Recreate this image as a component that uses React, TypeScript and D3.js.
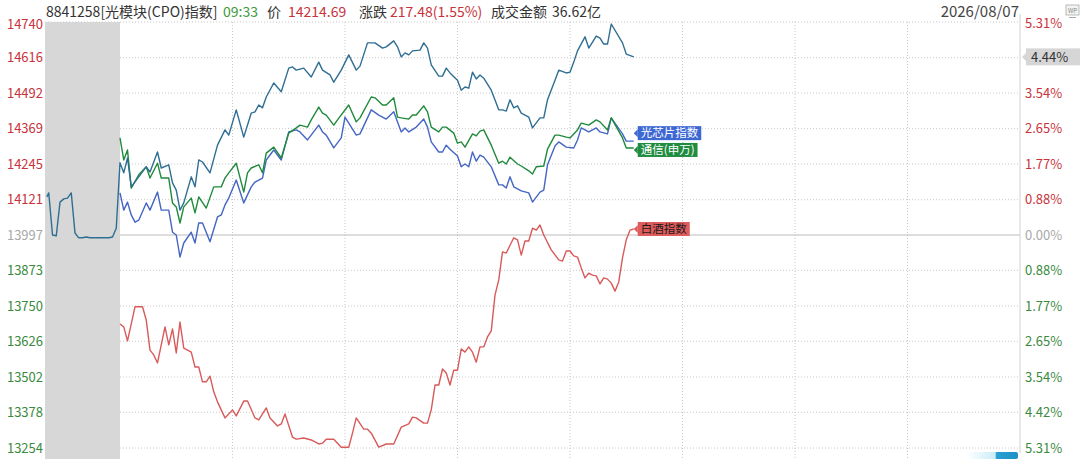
import { useEffect, useRef } from "react";
import * as d3 from "d3";

// minutes from 9:30 (negative = call auction), value = % change vs 13997
const cpoAuction: [number, number][] = [
  [-19.5, 0.95], [-19, 1.05], [-18, 0], [-17, -0.02], [-16, 0.82], [-15, 0.9], [-14, 0.92], [-13, 1.05],
  [-12, 0.05], [-11, -0.07], [-10, -0.07], [-9, -0.05], [-8, -0.07], [-5, -0.07], [-3, -0.07], [-2, -0.05], [-1, 0.17],
];

const cpoIndex: [number, number][] = [
  [0, 1.8], [1, 1.55], [2, 1.92], [3, 1.2], [5, 1.45], [7, 1.7], [8, 1.57], [10, 2.07], [11, 1.67], [13, 1.75],
  [14, 1.3], [15, 1.12], [16, 0.62], [17, 0.8], [19, 1.45], [20, 1.2], [21, 1.87], [22, 1.82], [24, 1.55], [26, 2.24],
  [28, 2.62], [29, 2.49], [31, 3.12], [33, 2.44], [35, 3.04], [36, 3.07], [37, 3.24], [38, 3.17], [39, 3.44], [41, 3.79],
  [43, 3.57], [45, 4.16], [46, 4.19], [47, 4.11], [49, 4.16], [51, 3.94], [53, 4.31], [54, 4.11], [56, 3.99], [57, 3.81],
  [59, 4.11], [61, 4.49], [63, 4.11], [64, 4.21], [66, 4.79], [68, 4.79], [70, 4.66], [71, 4.69], [73, 4.84], [74, 4.69],
  [75, 4.44], [76, 4.54], [77, 4.49], [78, 4.59], [80, 4.61], [81, 4.79], [82, 4.66], [83, 4.24], [85, 3.96], [86, 3.96],
  [87, 4.16], [88, 4.04], [90, 3.86], [91, 3.61], [92, 3.69], [93, 3.66], [94, 4.06], [95, 3.89], [96, 3.99], [97, 3.91],
  [99, 3.61], [101, 3.12], [102, 3.12], [103, 3.09], [104, 3.37], [105, 3.17], [106, 3.22], [107, 3.04], [109, 2.94], [110, 2.67],
  [112, 2.92], [113, 2.92], [114, 3.37], [116, 3.86], [117, 4.11], [119, 4.04], [120, 4.06], [121, 4.31], [122, 4.59], [124, 4.94],
  [125, 4.66], [127, 4.96], [128, 4.91], [129, 4.76], [130, 4.76], [131, 5.26], [134, 4.79], [135, 4.51], [137, 4.44],
];

const telecomIndex: [number, number][] = [
  [0, 2.42], [1, 1.87], [2, 2.12], [3, 1.17], [5, 1.5], [7, 1.7], [8, 1.42], [10, 1.79], [11, 1.42], [13, 1.42],
  [14, 0.8], [15, 0.7], [16, 0.3], [17, 0.7], [19, 0.92], [20, 0.55], [21, 0.95], [23, 0.67], [25, 1.2], [27, 1.2],
  [28, 1.42], [29, 1.55], [31, 1.79], [33, 1.07], [34, 1.55], [35, 1.67], [37, 1.75], [38, 1.55], [39, 2.04], [41, 2.19],
  [43, 1.92], [45, 2.54], [47, 2.67], [48, 2.74], [50, 2.69], [51, 2.87], [53, 3.19], [54, 3.04], [55, 2.99], [57, 2.74],
  [58, 2.87], [61, 3.24], [63, 2.82], [64, 2.92], [67, 3.44], [68, 3.42], [70, 3.24], [71, 3.24], [73, 3.42], [74, 2.94],
  [75, 2.92], [77, 2.89], [78, 2.99], [79, 2.99], [81, 3.22], [82, 3.07], [83, 2.69], [85, 2.57], [86, 2.69], [87, 2.69],
  [89, 2.54], [90, 2.29], [91, 2.32], [92, 2.19], [94, 2.52], [95, 2.47], [96, 2.59], [97, 2.62], [99, 2.24], [101, 1.79],
  [102, 1.84], [103, 1.77], [104, 1.94], [106, 1.77], [107, 1.72], [109, 1.6], [110, 1.52], [111, 1.7], [113, 1.72], [114, 2.14],
  [116, 2.49], [117, 2.49], [119, 2.44], [120, 2.42], [122, 2.62], [123, 2.79], [125, 2.74], [127, 2.87], [128, 2.82], [130, 2.62],
  [131, 2.92], [134, 2.42], [135, 2.17], [137, 2.17],
];

const chipIndex: [number, number][] = [
  [0, 1.05], [1, 0.62], [2, 0.82], [3, 0.5], [4, 0.32], [5, 0.37], [7, 0.8], [8, 0.62], [10, 1.07], [11, 0.62],
  [13, 0.62], [14, 0.07], [15, 0], [16, -0.55], [17, -0.2], [19, 0.07], [20, -0.2], [21, 0.3], [22, 0.3], [24, -0.17],
  [26, 0.45], [27, 0.5], [28, 0.75], [29, 0.92], [31, 1.37], [33, 0.8], [35, 1.2], [36, 1.32], [38, 1.42], [39, 1.87],
  [41, 2.12], [43, 1.87], [45, 2.57], [47, 2.62], [48, 2.57], [50, 2.37], [53, 2.74], [54, 2.57], [55, 2.49], [57, 2.17],
  [59, 2.42], [60, 2.94], [63, 2.49], [64, 2.52], [67, 3.12], [69, 2.99], [70, 2.94], [71, 2.89], [73, 3.07], [75, 2.57],
  [76, 2.67], [77, 2.57], [79, 2.69], [81, 2.89], [82, 2.69], [83, 2.32], [85, 2.07], [86, 2.07], [87, 2.24], [88, 2.14],
  [90, 1.97], [91, 1.7], [92, 1.77], [93, 1.7], [94, 2.07], [95, 1.84], [96, 1.99], [97, 1.94], [99, 1.7], [101, 1.25],
  [102, 1.25], [103, 1.17], [104, 1.45], [105, 1.2], [107, 1.1], [109, 1.05], [110, 0.82], [112, 1.07], [113, 1.12], [114, 1.75],
  [116, 2.22], [117, 2.32], [119, 2.19], [121, 2.17], [122, 2.37], [123, 2.67], [125, 2.57], [127, 2.67], [128, 2.57], [130, 2.52],
  [131, 2.92], [134, 2.52], [135, 2.34], [137, 2.34],
];

const liquorIndex: [number, number][] = [
  [0, -2.22], [1, -2.29], [2, -2.64], [4, -1.79], [6, -1.79], [7, -2.12], [8, -2.87], [9, -2.99], [10, -3.19], [12, -2.29],
  [13, -2.74], [14, -2.34], [15, -2.94], [16, -2.17], [17, -2.82], [19, -2.92], [20, -3.29], [21, -3.29], [22, -3.66], [23, -3.66],
  [24, -3.52], [25, -3.91], [26, -4.16], [28, -4.56], [30, -4.36], [31, -4.51], [33, -4.14], [34, -4.14], [36, -4.56], [37, -4.61],
  [39, -4.31], [40, -4.56], [42, -4.76], [43, -4.71], [44, -4.46], [46, -5.04], [47, -5.09], [49, -5.06], [51, -5.11], [53, -5.21],
  [54, -5.19], [55, -5.09], [57, -5.09], [58, -5.19], [59, -5.29], [61, -5.29], [62, -4.94], [63, -4.56], [65, -4.84], [66, -4.84],
  [67, -4.94], [69, -5.29], [71, -5.21], [73, -5.21], [75, -4.79], [77, -4.71], [78, -4.54], [79, -4.56], [81, -4.69], [82, -4.69],
  [83, -4.36], [84, -3.74], [85, -3.74], [86, -3.34], [87, -3.44], [88, -3.74], [89, -3.37], [90, -3.37], [91, -2.84], [92, -2.92],
  [93, -2.79], [94, -2.92], [95, -3.17], [96, -2.79], [97, -2.79], [98, -2.54], [99, -2.39], [100, -1.5], [101, -1.12], [102, -0.42],
  [103, -0.45], [105, -0.07], [106, -0.12], [107, -0.5], [108, -0.15], [109, -0.15], [110, 0.17], [111, 0.12], [112, 0.25], [113, 0],
  [115, -0.37], [117, -0.62], [118, -0.65], [119, -0.4], [120, -0.4], [121, -0.52], [122, -0.55], [123, -0.82], [124, -1.07], [125, -0.95],
  [126, -1.0], [127, -1.02], [128, -1.22], [129, -1.07], [130, -1.1], [131, -1.2], [132, -1.4], [133, -1.17], [134, -0.57], [135, -0.12],
  [136, 0.12], [137, 0.15],
];

const pctTicks = [5.31, 4.42, 3.54, 2.65, 1.77, 0.88, 0, -0.88, -1.77, -2.65, -3.54, -4.42, -5.31];
const priceLabels = ["14740", "14616", "14492", "14369", "14245", "14121", "13997", "13873", "13750", "13626", "13502", "13378", "13254"];
const pctLabels = ["5.31%", "4.42%", "3.54%", "2.65%", "1.77%", "0.88%", "0.00%", "0.88%", "1.77%", "2.65%", "3.54%", "4.42%", "5.31%"];
const gridMinutes = [30, 60, 90, 120, 150, 180, 210];

const header = [
  { text: "8841258[光模块(CPO)指数]", color: "#333" },
  { text: "09:33", color: "#3c9a3c" },
  { text: "价", color: "#333" },
  { text: "14214.69", color: "#c8323a" },
  { text: "涨跌", color: "#333" },
  { text: "217.48(1.55%)", color: "#c8323a" },
  { text: "成交金额", color: "#333" },
  { text: "36.62亿", color: "#333" },
];
const headerX = [46, 223, 267, 288, 359, 390, 491, 552];
const dateLabel = "2026/08/07";

export default function App() {
  const svgRef = useRef<SVGSVGElement>(null);

  useEffect(() => {
    if (!svgRef.current) return;
    document.body.style.margin = "0";

    const svg = d3.select(svgRef.current);
    svg.selectAll("*").remove();

    const W = 1080;
    const H = 459;
    const left = 45;
    const right = 1020;
    const top = 22;
    const bottom = 448;
    const font = "'Noto Sans CJK SC', 'Noto Sans', sans-serif";

    const x = d3.scaleLinear().domain([-20, 240]).range([left, right]);
    const y = d3.scaleLinear().domain([-5.31, 5.31]).range([bottom, top]);

    svg.append("rect").attr("width", W).attr("height", H).attr("fill", "#fff");

    // grid
    pctTicks.forEach((p) => {
      svg.append("line")
        .attr("x1", left).attr("x2", right)
        .attr("y1", y(p)).attr("y2", y(p))
        .attr("stroke", p === 0 ? "#d2d2d2" : "#c8c8c8")
        .attr("stroke-width", p === 0 ? 1.5 : 1)
        .attr("stroke-dasharray", p === 0 ? null : "1,2");
    });
    gridMinutes.forEach((m) => {
      svg.append("line")
        .attr("x1", x(m)).attr("x2", x(m))
        .attr("y1", top).attr("y2", H)
        .attr("stroke", "#c8c8c8")
        .attr("stroke-dasharray", "1,2");
    });
    svg.append("line")
      .attr("x1", x(240)).attr("x2", x(240))
      .attr("y1", 14).attr("y2", 453)
      .attr("stroke", "#d0d0d0");

    // auction shading
    svg.append("rect")
      .attr("x", x(-20)).attr("y", top)
      .attr("width", x(0) - x(-20)).attr("height", H - top)
      .attr("fill", "#d7d7d7");

    const lastCpo = cpoIndex[cpoIndex.length - 1][1];
    const my = y(lastCpo);

    // axis labels
    const axisColor = (i: number) => (i < 6 ? "#c8323a" : i === 6 ? "#a8a8a8" : "#3a8a3e");
    priceLabels.forEach((t, i) => {
      svg.append("text")
        .attr("x", 43).attr("y", y(pctTicks[i]) + (i === 0 ? 2 : 0))
        .attr("dy", "0.36em")
        .attr("text-anchor", "end")
        .attr("font-family", font).attr("font-size", 13)
        .attr("fill", axisColor(i))
        .text(t);
    });
    pctLabels.forEach((t, i) => {
      // the current-value marker sits on top of this label
      if (Math.abs(y(pctTicks[i]) - my) < 10) return;
      svg.append("text")
        .attr("x", 1025).attr("y", y(pctTicks[i]) + (i === 0 ? 1 : 0))
        .attr("dy", "0.36em")
        .attr("font-family", font).attr("font-size", 13)
        .attr("fill", axisColor(i))
        .text(t);
    });

    // series
    const line = d3.line<[number, number]>().x((d) => x(d[0])).y((d) => y(d[1]));
    const series = [
      { data: liquorIndex, color: "#d85a5a" },
      { data: chipIndex, color: "#4465c4" },
      { data: telecomIndex, color: "#1f8a3c" },
      { data: cpoAuction.concat(cpoIndex), color: "#2f6e93" },
    ];
    series.forEach((s) => {
      svg.append("path")
        .attr("d", line(s.data))
        .attr("fill", "none")
        .attr("stroke", s.color)
        .attr("stroke-width", 1.4)
        .attr("stroke-linejoin", "round");
    });

    // end tags
    const tag = (data: [number, number][], text: string, fill: string, color: string, shift: number) => {
      const last = data[data.length - 1];
      const x0 = x(last[0]) + 4;
      const cy = y(last[1]) + shift;
      const g = svg.append("g");
      const rect = g.append("rect").attr("x", x0).attr("y", cy - 7).attr("height", 14).attr("fill", fill);
      g.append("path")
        .attr("d", `M${x0 - 4},${cy}L${x0},${cy - 4}L${x0},${cy + 4}Z`)
        .attr("fill", fill);
      const label = g.append("text")
        .attr("x", x0 + 3).attr("y", cy).attr("dy", "0.36em")
        .attr("font-family", font).attr("font-size", 11.5)
        .attr("fill", color)
        .text(text);
      const w = (label.node() as SVGTextElement).getComputedTextLength();
      rect.attr("width", w + 6);
    };
    tag(chipIndex, "光芯片指数", "#3d67d2", "#fff", -8);
    tag(telecomIndex, "通信(申万)", "#1f8c3f", "#fff", 2);
    tag(liquorIndex, "白酒指数", "#e05c5c", "#1a1a1a", 0);

    // current value marker on right axis
    svg.append("path")
      .attr("d", `M${right + 2},${my}L${right + 6},${my - 4}L${right + 6},${my + 4}Z`)
      .attr("fill", "#d6d6d6");
    svg.append("rect")
      .attr("x", right + 6).attr("y", my - 8.5)
      .attr("width", W - right - 6).attr("height", 17)
      .attr("fill", "#d6d6d6");
    svg.append("text")
      .attr("x", 1031).attr("y", my).attr("dy", "0.36em")
      .attr("font-family", font).attr("font-size", 13)
      .attr("fill", "#333")
      .text(d3.format(".2f")(lastCpo) + "%");

    // header
    header.forEach((h, i) => {
      svg.append("text")
        .attr("x", headerX[i]).attr("y", 17)
        .attr("font-family", font).attr("font-size", 14)
        .attr("fill", h.color)
        .text(h.text);
    });
    svg.append("text")
      .attr("x", 1019).attr("y", 17)
      .attr("text-anchor", "end")
      .attr("font-family", font).attr("font-size", 15)
      .attr("fill", "#444")
      .text(dateLabel);

    // small icon top right
    const icon = svg.append("g").attr("transform", "translate(1066,5)");
    icon.append("rect").attr("width", 13).attr("height", 10).attr("fill", "#f4f4f4").attr("stroke", "#aaa").attr("stroke-width", 0.8);
    icon.append("text").attr("x", 6.5).attr("y", 7.5).attr("text-anchor", "middle")
      .attr("font-family", font).attr("font-size", 6).attr("fill", "#888").text("WP");
    icon.append("line").attr("x1", 3).attr("x2", 10).attr("y1", 12.5).attr("y2", 12.5).attr("stroke", "#aaa");

    // scroll handle bottom right
    const defs = svg.append("defs");
    const grad = defs.append("linearGradient").attr("id", "bar");
    grad.append("stop").attr("offset", "0%").attr("stop-color", "#ffffff");
    grad.append("stop").attr("offset", "55%").attr("stop-color", "#c9ecf8");
    grad.append("stop").attr("offset", "58%").attr("stop-color", "#2a9fd2");
    grad.append("stop").attr("offset", "100%").attr("stop-color", "#1f90c6");
    svg.append("rect")
      .attr("x", 967).attr("y", 452).attr("width", 51).attr("height", 7)
      .attr("rx", 2)
      .attr("fill", "url(#bar)");
  }, []);

  return <svg ref={svgRef} width={1080} height={459} style={{ display: "block" }} />;
}
